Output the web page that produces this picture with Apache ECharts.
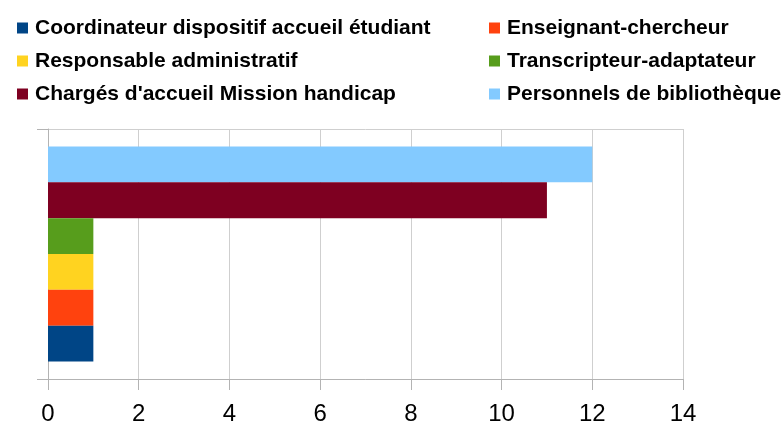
<!DOCTYPE html>
<html lang="en">
<head>
    <meta charset="UTF-8">
    <title>Chart</title>
    <style>
        html, body { margin: 0; padding: 0; background: #fff; }
        #main { width: 784px; height: 423px; }
    </style>
</head>
<body>
    <div id="main"></div>
<script type="text/javascript" src="https://cdn.jsdelivr.net/npm/echarts@6/dist/echarts.min.js"></script>
<script type="text/javascript">
    // data
    var categories = [''];
    var seriesNames = [
        'Coordinateur dispositif accueil étudiant',
        'Enseignant-chercheur',
        'Responsable administratif',
        'Transcripteur-adaptateur',
        "Chargés d'accueil Mission handicap",
        'Personnels de bibliothèque'
    ];
    var seriesValues = [1, 1, 1, 1, 11, 12];
    var colors = ['#004586', '#ff420e', '#ffd320', '#579d1c', '#7e0021', '#83caff'];
    var xTicks = [0, 14, 2];   // min, max, interval

    var myChart = echarts.init(document.getElementById('main'));

    var legendText = {
        fontFamily: 'Liberation Sans',
        fontSize: 21,
        fontWeight: 'bold',
        color: '#000',
        lineHeight: 22,
        padding: [0, 0, 0, 2]
    };

    // first series drawn at the bottom, so add them in reverse
    var series = [];
    for (var i = seriesNames.length - 1; i >= 0; i--) {
        series.push({
            name: seriesNames[i],
            type: 'bar',
            data: [seriesValues[i]],
            itemStyle: { color: colors[i] },
            barGap: 0,
            barCategoryGap: '14%'
        });
    }

    var option = {
        animation: false,
        legend: [
            {
                orient: 'vertical',
                left: 12,
                top: 12,
                itemWidth: 11,
                itemHeight: 11,
                itemGap: 11,
                icon: 'rect',
                selectedMode: false,
                textStyle: legendText,
                data: [seriesNames[0], seriesNames[2], seriesNames[4]]
            },
            {
                orient: 'vertical',
                left: 484,
                top: 12,
                itemWidth: 11,
                itemHeight: 11,
                itemGap: 11,
                icon: 'rect',
                selectedMode: false,
                textStyle: legendText,
                data: [seriesNames[1], seriesNames[3], seriesNames[5]]
            }
        ],
        grid: {
            left: 48,
            right: 101,
            top: 129,
            bottom: 44,
            containLabel: false,
            outerBoundsMode: 'none'
        },
        xAxis: {
            type: 'value',
            min: xTicks[0],
            max: xTicks[1],
            interval: xTicks[2],
            axisLine: { show: true, lineStyle: { color: '#b3b3b3' } },
            axisTick: { show: true, length: 11, lineStyle: { color: '#b3b3b3' } },
            splitLine: { show: true, lineStyle: { color: '#cfcfcf' } },
            axisLabel: {
                fontFamily: 'Liberation Sans',
                fontSize: 24,
                color: '#000',
                margin: 23
            }
        },
        yAxis: {
            type: 'category',
            data: categories,
            axisLine: { show: true, lineStyle: { color: '#b3b3b3' } },
            axisTick: { show: true, length: 11, lineStyle: { color: '#b3b3b3' } },
            splitLine: { show: true, lineStyle: { color: '#cfcfcf' } },
            axisLabel: { show: false }
        },
        series: series
    };
    myChart.setOption(option);
</script>
</body>
</html>
